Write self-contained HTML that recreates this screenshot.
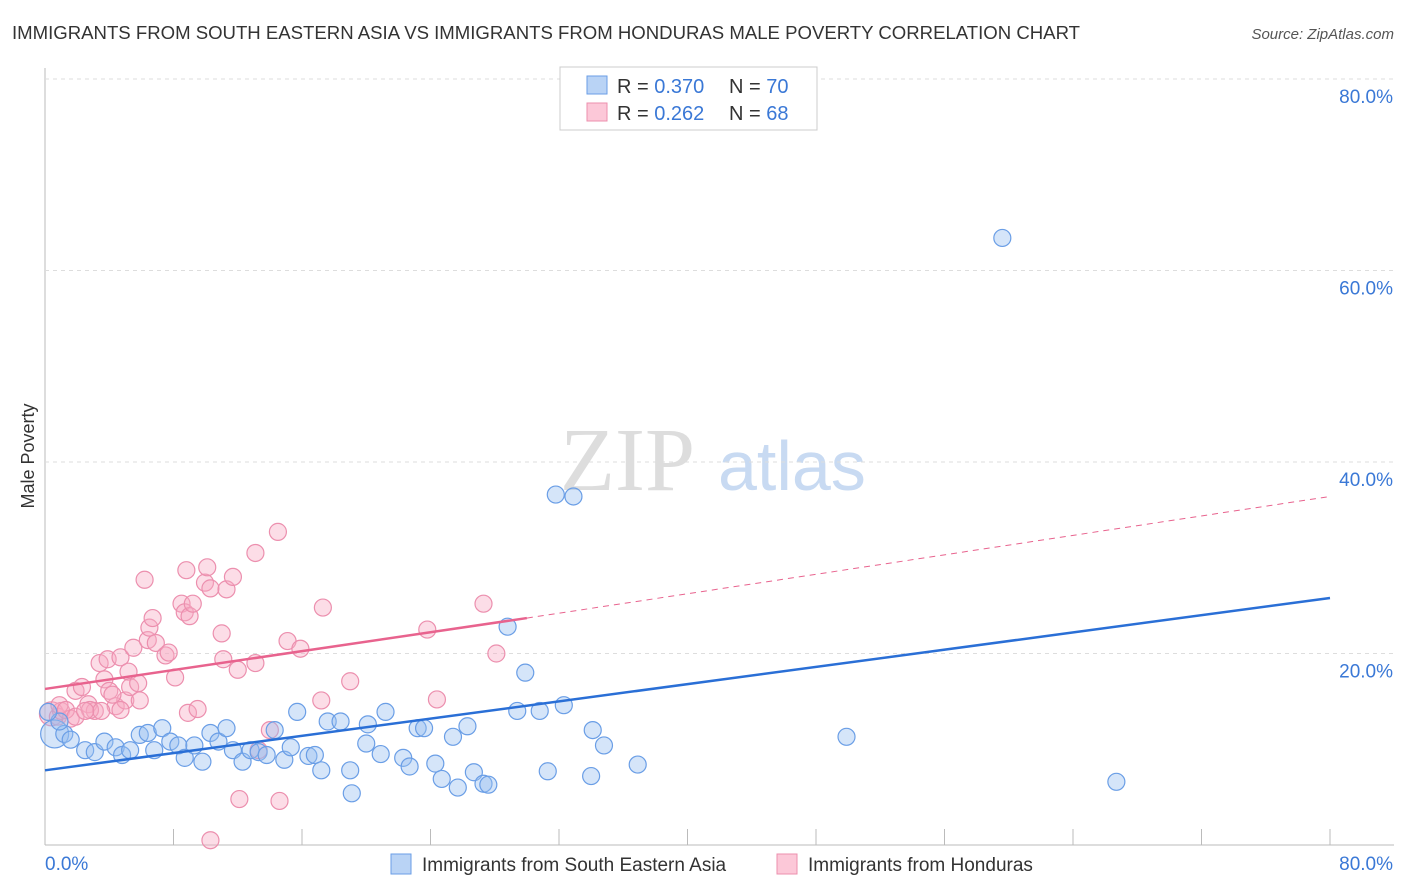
<!DOCTYPE html>
<html><head><meta charset="utf-8"><style>
body{margin:0;background:#fff;font-family:"Liberation Sans",sans-serif;}
</style></head><body>
<svg width="1406" height="892" id="c" style="display:block">
<text x="12" y="39" font-size="18.6" fill="#333" textLength="1068">IMMIGRANTS FROM SOUTH EASTERN ASIA VS IMMIGRANTS FROM HONDURAS MALE POVERTY CORRELATION CHART</text>
<text x="1394" y="39" font-size="15" fill="#555" font-style="italic" text-anchor="end">Source: ZipAtlas.com</text>
<text x="34" y="456" font-size="18" fill="#333" text-anchor="middle" transform="rotate(-90 34 456)">Male Poverty</text>
<text x="560" y="490" font-size="90" fill="#ddd" font-family="Liberation Serif">ZIP</text>
<text x="718" y="490" font-size="70" fill="#c8daf2">atlas</text>
<g id="grid"></g><g id="pts"></g><g id="lines"></g>
<g>
<rect x="560" y="67" width="257" height="63" fill="#fff" stroke="#ccc"/>
<rect x="587" y="76" width="20" height="18" fill="#b9d3f5" stroke="#6a9ee6"/>
<rect x="587" y="103" width="20" height="18" fill="#fcc8d8" stroke="#ec8fae"/>
<text x="617" y="93" font-size="20" fill="#333">R = <tspan fill="#3a78d6">0.370</tspan></text>
<text x="729" y="93" font-size="20" fill="#333">N = <tspan fill="#3a78d6">70</tspan></text>
<text x="617" y="120" font-size="20" fill="#333">R = <tspan fill="#3a78d6">0.262</tspan></text>
<text x="729" y="120" font-size="20" fill="#333">N = <tspan fill="#3a78d6">68</tspan></text>
</g>
<g>
<rect x="391" y="854" width="20" height="20" fill="#b9d3f5" stroke="#6a9ee6"/>
<text x="422" y="871" font-size="19" fill="#333">Immigrants from South Eastern Asia</text>
<rect x="777" y="854" width="20" height="20" fill="#fcc8d8" stroke="#ec8fae"/>
<text x="808" y="871" font-size="19" fill="#333">Immigrants from Honduras</text>
</g>
</svg>
<script>
const yTicks=[20,40,60,80];
const xTicks=[0,8,16,24,32,40,48,56,64,72,80];
const blueX=[0.6,1.2,2.5,3.1,3.7,4.4,4.8,5.3,5.9,6.4,6.8,7.3,7.8,8.3,8.7,9.3,9.8,10.3,10.8,11.3,11.7,12.3,12.8,13.3,13.8,14.3,14.9,15.3,15.7,16.4,16.8,17.2,17.6,18.4,19.0,19.1,20.0,20.1,20.9,21.2,22.3,22.7,23.2,23.6,24.3,24.7,25.4,25.7,26.3,26.7,27.3,27.6,28.8,29.4,29.9,30.8,31.3,31.8,32.3,32.9,34.0,34.1,34.8,36.9,49.9,59.6,66.7,0.9,0.2,1.6];
const blueY=[11.6,11.6,9.9,9.7,10.8,10.2,9.4,9.9,11.5,11.7,9.9,12.2,10.8,10.4,9.1,10.4,8.7,11.7,10.8,12.2,9.9,8.7,9.9,9.7,9.4,12.0,8.9,10.2,13.9,9.3,9.4,7.8,12.9,12.9,7.8,5.4,10.6,12.6,9.5,13.9,9.1,8.2,12.2,12.2,8.5,6.9,11.3,6.0,12.4,7.6,6.4,6.3,22.8,14.0,18.0,14.0,7.7,36.6,14.6,36.4,7.2,12.0,10.4,8.4,11.3,63.4,6.6,12.9,13.9,11.0];
const pinkX=[0.4,0.8,1.0,1.6,1.9,2.3,2.7,3.1,3.4,3.7,3.9,4.0,4.4,4.7,5.0,5.2,5.3,5.5,5.8,5.9,6.2,6.4,6.5,6.7,6.9,7.5,7.7,8.1,8.5,8.7,8.8,9.0,9.2,9.960,10.1,10.3,11.0,11.1,11.3,11.7,12.0,12.1,13.1,13.1,14.0,14.5,14.6,15.1,15.9,17.3,17.2,19.0,10.3,8.9,9.5,13.3,23.8,24.4,27.3,28.1,0.9,1.3,2.8,4.7,4.2,1.9,3.5,2.5];
const pinkY=[13.7,13.4,14.0,13.2,16.1,16.5,14.7,14.0,19.0,17.3,19.4,16.1,14.5,19.6,15.1,18.1,16.5,20.6,16.9,15.1,27.7,21.4,22.7,23.7,21.1,19.8,20.1,17.5,25.2,24.3,28.7,23.9,25.2,27.4,29.0,26.8,22.1,19.4,26.7,28.0,18.3,4.8,30.5,19.0,12.0,32.7,4.6,21.3,20.5,24.8,15.1,17.1,0.5,13.8,14.2,9.9,22.5,15.2,25.2,20.0,14.6,14.1,14.1,14.1,15.7,13.4,14.0,14.0];
const blueLine=[0,7.8,80,25.8];
const pinkLine=[0,16.3,30,23.7,80,36.4];
const X=v=>45+v/80*1285, Y=v=>845-v/80*766;
const NS="http://www.w3.org/2000/svg";
function mk(t,a,p){const e=document.createElementNS(NS,t);for(const k in a)e.setAttribute(k,a[k]);document.getElementById(p).appendChild(e);return e;}
let ax=mk('line',{x1:45,y1:845,x2:1394,y2:845,stroke:'#bbb'},'grid');


let ay=mk('line',{x1:45,y1:68,x2:45,y2:845,stroke:'#bbb'},'grid');


yTicks.forEach(t=>{
 let g=mk('line',{x1:45,y1:Y(t),x2:1394,y2:Y(t),stroke:'#ddd','stroke-dasharray':'4,4'},'grid');
 
 
 let l=mk('text',{x:1393,y:Y(t)+24,'font-size':19,fill:'#3a78d6','text-anchor':'end'},'grid');
 l.textContent=t.toFixed(1)+'%';
 
 
});
xTicks.forEach(t=>{
 let k=mk('line',{x1:X(t),y1:829,x2:X(t),y2:845,stroke:'#bbb'},'grid');
 
 
});
let x0=mk('text',{x:45,y:870,'font-size':19,fill:'#3a78d6'},'grid');x0.textContent='0.0%';


let x1=mk('text',{x:1393,y:870,'font-size':19,fill:'#3a78d6','text-anchor':'end'},'grid');x1.textContent='80.0%';


pinkX.forEach((v,i)=>{let c=mk('circle',{cx:X(v),cy:Y(pinkY[i]),r:i==0?12:8.5,fill:'rgba(248,170,195,0.4)',stroke:'#ec8fae','stroke-width':1.2},'pts');
 
 });
blueX.forEach((v,i)=>{let c=mk('circle',{cx:X(v),cy:Y(blueY[i]),r:i==0?14:8.5,fill:'rgba(150,190,240,0.4)',stroke:'#6a9ee6','stroke-width':1.2},'pts');
 
 });
let bl=mk('line',{x1:X(blueLine[0]),y1:Y(blueLine[1]),x2:X(blueLine[2]),y2:Y(blueLine[3]),stroke:'#2a6fd6','stroke-width':2.5},'lines');


let pl=mk('line',{x1:X(pinkLine[0]),y1:Y(pinkLine[1]),x2:X(pinkLine[2]),y2:Y(pinkLine[3]),stroke:'#e8638e','stroke-width':2.5},'lines');


let pd=mk('line',{x1:X(pinkLine[2]),y1:Y(pinkLine[3]),x2:X(pinkLine[4]),y2:Y(pinkLine[5]),stroke:'#e8638e','stroke-width':1,'stroke-dasharray':'6,5'},'lines');


</script>
</body></html>
